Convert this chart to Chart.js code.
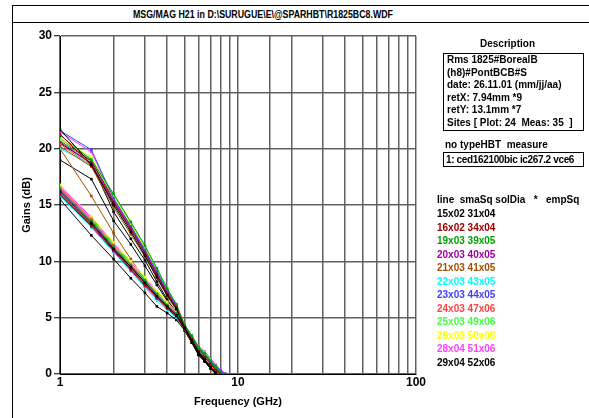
<!DOCTYPE html>
<html>
<head>
<meta charset="utf-8">
<script src="https://cdn.jsdelivr.net/npm/chart.js@4/dist/chart.umd.min.js"></script>
<style>
  html, body { margin: 0; padding: 0; background: #fff; }
  body { width: 589px; height: 418px; position: relative; overflow: hidden;
         font-family: "Liberation Sans", Arial, sans-serif; font-weight: bold; font-size: 10px; color: #000; }
  #chart { position: absolute; left: 0; top: 0; }
  .abs { position: absolute; white-space: pre; line-height: 12px; }
  #frameTop { position: absolute; left: 12px; top: 5px; width: 577px; height: 16px;
              border-top: 1px solid #000; border-bottom: 1px solid #000; }
  #frameLeft { position: absolute; left: 12px; top: 5px; width: 0; height: 413px; border-left: 1px solid #000; }
  #title { position: absolute; top: 8px; left: 0; white-space: pre; font-weight: bold; font-size: 11px;
           line-height: 12px; transform-origin: 0 0; }
  #descBox { position: absolute; left: 443px; top: 53px; width: 136px; padding-left: 3px;
             border: 1px solid #000; line-height: 12.6px; white-space: pre; }
  #measBox { position: absolute; left: 443px; top: 152px; width: 137px; height: 13px; padding-left: 2px;
             border: 1px solid #000; line-height: 13px; white-space: pre; letter-spacing: -0.35px; }
  #legend { position: absolute; left: 437px; top: 207px; line-height: 13.55px; white-space: pre; }
</style>
</head>
<body>
<div id="frameTop"></div>
<div id="frameLeft"></div>
<span id="title"></span>
<canvas id="chart" width="589" height="418"></canvas>
<div class="abs" id="descTitle" style="left:480px; top:38px;"></div>
<div id="descBox"></div>
<div class="abs" id="measTitle" style="left:445px; top:139px;"></div>
<div id="measBox"></div>
<div class="abs" id="legendHead" style="left:437px; top:194px;"></div>
<div id="legend"></div>

<script>
// texts
const TITLE = 'MSG/MAG H21 in D:\\SURUGUE\\E\\@SPARHBT\\R1825BC8.WDF';
const DESC_TITLE = 'Description';
const DESC_LINES = [
    'Rms 1825#BorealB',
    '(h8)#PontBCB#S',
    'date: 26.11.01 (mm/jj/aa)',
    'retX: 7.94mm *9',
    'retY: 13.1mm *7',
    'Sites [ Plot: 24  Meas: 35  ]'
];
const MEAS_TITLE = 'no typeHBT  measure';
const MEAS_LINE = '1: ced162100bic ic267.2 vce6';
const LEGEND_HEAD = 'line  smaSq solDia   *   empSq';

// axes
const X_TICK_LABELS = [1, 10, 100];
const Y_TICKS = [0, 5, 10, 15, 20, 25, 30];

// frequencies (GHz)
const FREQS = [1, 1.5, 2, 2.5, 3, 3.5, 4, 4.5, 5, 5.5, 6, 6.5, 7, 7.5, 8, 8.5];

// device types (legend)
const TYPES = ['15x02 31x04', '16x02 34x04', '19x03 39x05', '20x03 40x05', '21x03 41x05', '22x03 43x05',
               '23x03 44x05', '24x03 47x06', '25x03 49x06', '26x03 50x06', '28x04 51x06', '29x04 52x06'];
const TYPE_COLORS = ['#000000', '#a00000', '#00a000', '#a000a0', '#a05000', '#00ffff',
                     '#4040ff', '#ff4040', '#40ff40', '#ffff00', '#ff40ff', '#000000'];

// MSG/MAG curves, one per type (dB)
const MSG = [
    [21.7, 18.6, 15.0, 12.6, 10.5, 8.6, 7.0, 5.8, 4.1, 3.0, 1.9, 1.3, 0.6, 0.1, null, null],
    [21.3, 18.5, 15.2, 12.8, 10.7, 8.8, 7.1, 5.9, 4.2, 3.1, 2.0, 1.5, 0.9, 0.3, 0.0, null],
    [21.2, 19.0, 16.0, 13.5, 11.4, 9.4, 7.6, 6.2, 4.4, 3.4, 2.4, 1.8, 1.2, 0.6, 0.2, null],
    [20.6, 18.7, 15.3, 12.9, 10.8, 8.9, 7.2, 6.0, 4.3, 3.2, 2.2, 1.7, 1.0, 0.4, 0.1, null],
    [20.2, 18.4, 14.8, 12.4, 10.4, 8.5, 6.9, 5.7, 4.0, 2.9, 1.9, 1.3, 0.7, 0.2, null, null],
    [20.0, 18.6, 15.1, 12.7, 10.6, 8.7, 7.0, 5.8, 4.1, 3.0, 2.1, 1.6, 1.0, 0.5, 0.1, null],
    [21.6, 19.9, 15.6, 13.1, 11.0, 9.1, 7.4, 6.1, 4.3, 3.3, 2.3, 1.8, 1.2, 0.7, 0.3, 0.0],
    [20.4, 18.5, 15.2, 12.8, 10.6, 8.7, 7.1, 5.9, 4.2, 3.1, 2.1, 1.6, 1.0, 0.4, 0.0, null],
    [20.9, 19.1, 15.9, 13.4, 11.3, 9.3, 7.5, 6.2, 4.4, 3.4, 2.4, 1.9, 1.3, 0.7, 0.3, 0.0],
    [20.8, 19.3, 15.7, 13.3, 11.2, 9.2, 7.5, 6.1, 4.4, 3.3, 2.3, 1.8, 1.2, 0.6, 0.2, null],
    [21.5, 19.7, 15.5, 13.1, 11.0, 9.0, 7.3, 6.0, 4.3, 3.3, 2.4, 1.9, 1.4, 0.8, 0.4, 0.0],
    [20.5, 18.7, 14.4, 12.0, 10.1, 8.2, 6.6, 5.5, 3.9, 2.8, 1.7, 1.1, 0.5, 0.0, null, null]
];

// H21 curves, one per type (dB)
const H21 = [
    [16.2, 13.4, 11.1, 9.5, 8.1, 6.9, 6.0, 5.2, 4.1, 2.9, 1.8, 1.2, 0.6, 0.0, null, null],
    [16.0, 13.2, 11.0, 9.3, 7.9, 6.8, 5.9, 5.2, 4.1, 3.0, 1.9, 1.3, 0.7, 0.1, null, null],
    [16.4, 13.6, 11.3, 9.6, 8.3, 7.1, 6.1, 5.4, 4.3, 3.2, 2.2, 1.7, 1.1, 0.5, 0.1, null],
    [15.9, 13.1, 10.9, 9.2, 7.8, 6.7, 5.8, 5.1, 4.0, 3.0, 2.0, 1.5, 0.9, 0.3, 0.0, null],
    [16.1, 13.3, 11.0, 9.4, 8.0, 6.8, 5.9, 5.1, 4.0, 2.9, 1.9, 1.3, 0.7, 0.1, null, null],
    [15.8, 13.0, 10.8, 9.1, 7.7, 6.5, 5.7, 5.0, 4.0, 3.0, 2.0, 1.5, 0.9, 0.4, 0.0, null],
    [16.3, 13.5, 11.2, 9.5, 8.2, 7.0, 6.0, 5.3, 4.2, 3.2, 2.2, 1.7, 1.1, 0.6, 0.2, 0.0],
    [16.5, 13.7, 11.4, 9.7, 8.3, 7.1, 6.1, 5.3, 4.2, 3.1, 2.1, 1.6, 1.0, 0.5, 0.1, null],
    [16.6, 13.8, 11.5, 9.8, 8.4, 7.2, 6.2, 5.4, 4.3, 3.3, 2.3, 1.8, 1.2, 0.6, 0.2, 0.0],
    [16.8, 14.0, 11.7, 10.0, 8.6, 7.4, 6.4, 5.5, 4.4, 3.3, 2.3, 1.8, 1.2, 0.6, 0.2, null],
    [16.7, 13.9, 11.6, 9.9, 8.5, 7.3, 6.3, 5.5, 4.4, 3.4, 2.5, 2.0, 1.4, 0.8, 0.3, 0.0],
    [15.5, 12.3, 10.2, 8.5, 7.2, 6.0, 5.4, 4.8, 3.9, 2.8, 1.7, 1.1, 0.5, 0.0, null, null]
];

// a few more measured sites (type index + values)
const EXTRA_TYPE = [4, 11, 1, 7, 2, 10];
const EXTRA = [
    [20.0, 15.8, 12.5, 10.2, 8.4, 7.0, 5.9, 5.0, 3.9, 2.8, 1.8, 1.2, 0.6, 0.0, null, null],
    [19.0, 17.3, 13.6, 11.5, 9.6, 7.9, 6.5, 5.4, 3.9, 2.8, 1.8, 1.2, 0.6, 0.0, null, null],
    [20.9, 18.9, 15.4, 13.0, 10.9, 9.0, 7.3, 6.0, 4.3, 3.2, 2.1, 1.6, 1.0, 0.4, 0.0, null],
    [16.3, 13.5, 11.2, 9.5, 8.1, 6.9, 6.0, 5.2, 4.1, 3.0, 2.0, 1.5, 0.9, 0.3, 0.0, null],
    [20.7, 18.9, 15.6, 13.2, 11.1, 9.2, 7.4, 6.1, 4.3, 3.3, 2.3, 1.8, 1.2, 0.6, 0.2, null],
    [16.0, 13.3, 11.1, 9.4, 8.0, 6.9, 6.0, 5.3, 4.2, 3.2, 2.3, 1.8, 1.2, 0.6, 0.2, null]
];

// side texts
const titleEl = document.getElementById('title');
titleEl.textContent = TITLE;
// squeeze title to the width of the original
const tw = titleEl.getBoundingClientRect().width;
titleEl.style.left = '133px';
titleEl.style.transform = 'scaleX(' + (260 / tw) + ')';

document.getElementById('descTitle').textContent = DESC_TITLE;
document.getElementById('descBox').textContent = DESC_LINES.join('\n');
document.getElementById('measTitle').textContent = MEAS_TITLE;
document.getElementById('measBox').textContent = MEAS_LINE;
document.getElementById('legendHead').textContent = LEGEND_HEAD;
const legendEl = document.getElementById('legend');
TYPES.forEach((t, i) => {
    const d = document.createElement('div');
    d.textContent = t;
    d.style.color = TYPE_COLORS[i];
    legendEl.appendChild(d);
});

// datasets
function curve(values) {
    return FREQS.map((f, i) => ({ x: f, y: values[i] })).filter(p => p.y !== null);
}
function lineSet(values, color) {
    return {
        data: curve(values),
        borderColor: color,
        backgroundColor: color,
        borderWidth: 1,
        pointStyle: 'rect',
        pointRadius: 1.8,
        pointBorderWidth: 0,
        fill: false,
        tension: 0
    };
}
const datasets = [];
TYPES.forEach((t, i) => {
    datasets.push(lineSet(MSG[i], TYPE_COLORS[i]));
    datasets.push(lineSet(H21[i], TYPE_COLORS[i]));
});
EXTRA.forEach((v, i) => datasets.push(lineSet(v, TYPE_COLORS[EXTRA_TYPE[i]])));

const tickFont = { family: '"Liberation Sans", Arial, sans-serif', size: 12, weight: 'bold' };
const titleFont = { family: '"Liberation Sans", Arial, sans-serif', size: 11, weight: 'bold' };

new Chart(document.getElementById('chart').getContext('2d'), {
    type: 'line',
    data: { datasets: datasets },
    options: {
        responsive: false,
        animation: false,
        devicePixelRatio: 1,
        layout: { padding: { left: 0, top: 36, right: 173, bottom: 0 } },
        plugins: { legend: { display: false }, tooltip: { enabled: false } },
        scales: {
            x: {
                type: 'logarithmic',
                min: 1,
                max: 100,
                afterFit: s => { s.height = 44; },
                ticks: {
                    autoSkip: false, maxRotation: 0, minRotation: 0, padding: 1,
                    color: '#000', font: tickFont,
                    callback: v => X_TICK_LABELS.includes(v) ? String(v) : ''
                },
                grid: { color: '#606060', lineWidth: 1.5, drawTicks: false },
                border: { color: '#000', width: 1 },
                title: { display: true, text: 'Frequency (GHz)', color: '#000', font: titleFont,
                         padding: { top: 0, bottom: 9 } }
            },
            y: {
                min: 0,
                max: 30,
                afterFit: s => { s.width = 60; },
                afterBuildTicks: s => { s.ticks = Y_TICKS.map(v => ({ value: v })); },
                ticks: { color: '#000', font: tickFont, padding: 2 },
                grid: { color: '#606060', lineWidth: 1.5, tickLength: 6, tickColor: '#000', tickWidth: 1 },
                border: { color: '#000', width: 1 },
                title: { display: true, text: 'Gains (dB)', color: '#000', font: titleFont,
                         padding: { top: 20, bottom: 0 } }
            }
        }
    }
});
</script>
</body>
</html>
